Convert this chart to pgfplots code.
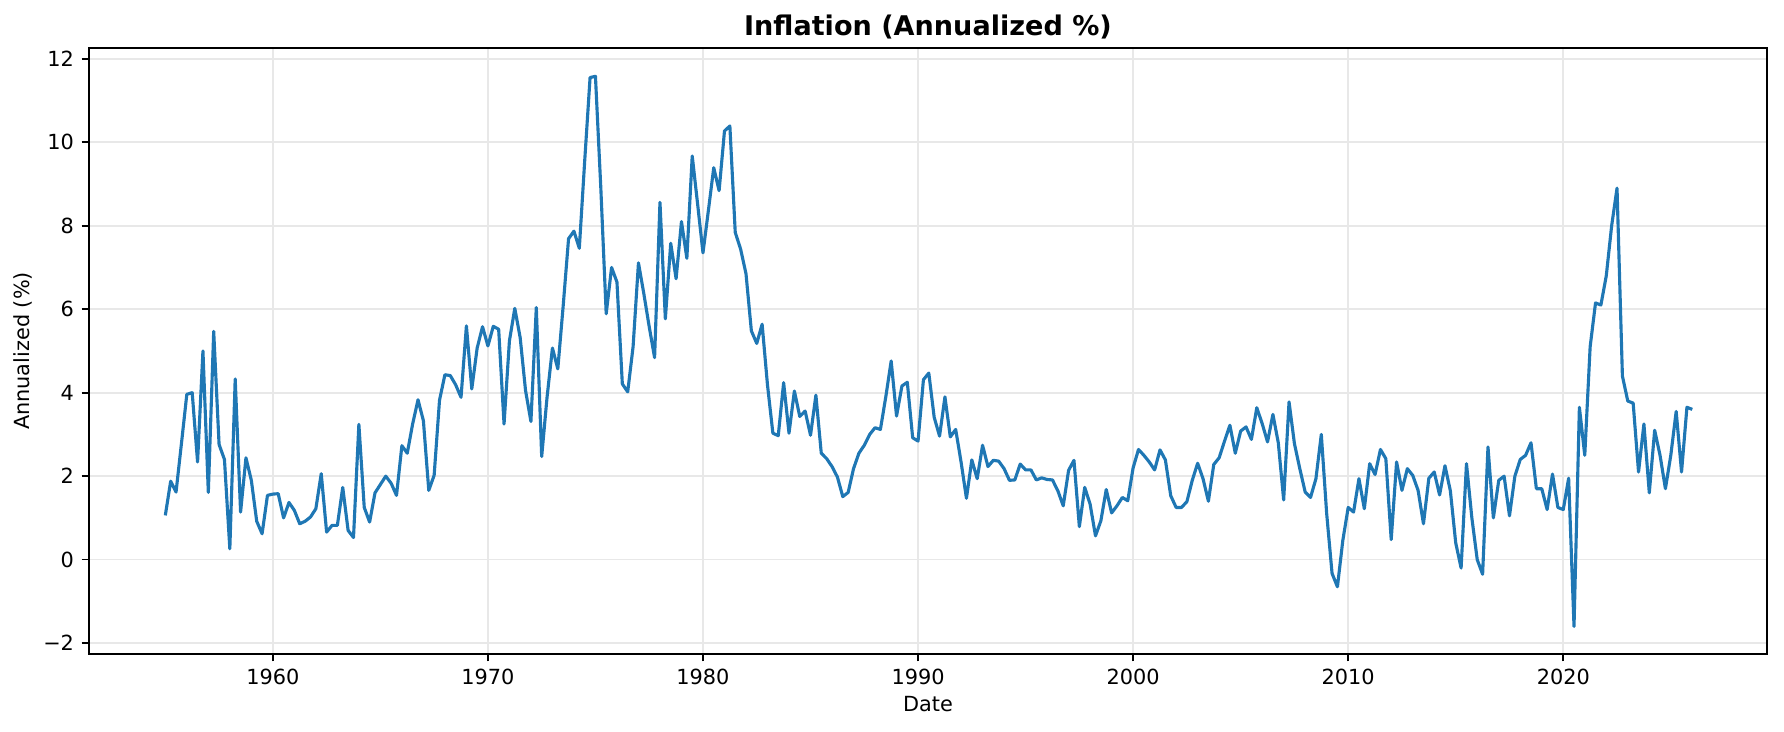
\documentclass[border=0pt]{standalone}
\usepackage{fontspec}
\setmainfont{DejaVu Sans}
\usepackage{pgfplots}
\usepackage{pgfplotstable}
\pgfplotsset{compat=1.18}
\definecolor{tabblue}{HTML}{1F77B4}
\definecolor{gridgray}{HTML}{E8E8E8}

% quarterly annualized inflation
\pgfplotstableread{
date infl
1955.00 1.06
1955.25 1.88
1955.50 1.62
1955.75 2.78
1956.00 3.96
1956.25 4.00
1956.50 2.34
1956.75 5.00
1957.00 1.61
1957.25 5.47
1957.50 2.76
1957.75 2.40
1958.00 0.26
1958.25 4.33
1958.50 1.14
1958.75 2.44
1959.00 1.90
1959.25 0.92
1959.50 0.62
1959.75 1.54
1960.00 1.57
1960.25 1.58
1960.50 1.00
1960.75 1.37
1961.00 1.18
1961.25 0.86
1961.50 0.92
1961.75 1.02
1962.00 1.22
1962.25 2.06
1962.50 0.66
1962.75 0.82
1963.00 0.82
1963.25 1.73
1963.50 0.70
1963.75 0.53
1964.00 3.24
1964.25 1.25
1964.50 0.90
1964.75 1.60
1965.00 1.80
1965.25 2.00
1965.50 1.83
1965.75 1.54
1966.00 2.73
1966.25 2.55
1966.50 3.25
1966.75 3.83
1967.00 3.33
1967.25 1.66
1967.50 2.02
1967.75 3.82
1968.00 4.43
1968.25 4.41
1968.50 4.19
1968.75 3.89
1969.00 5.60
1969.25 4.09
1969.50 5.07
1969.75 5.58
1970.00 5.12
1970.25 5.59
1970.50 5.52
1970.75 3.25
1971.00 5.24
1971.25 6.02
1971.50 5.32
1971.75 4.05
1972.00 3.31
1972.25 6.04
1972.50 2.47
1972.75 3.89
1973.00 5.07
1973.25 4.57
1973.50 6.08
1973.75 7.69
1974.00 7.87
1974.25 7.46
1974.50 9.55
1974.75 11.55
1975.00 11.58
1975.25 8.90
1975.50 5.89
1975.75 7.00
1976.00 6.65
1976.25 4.21
1976.50 4.02
1976.75 5.10
1977.00 7.11
1977.25 6.37
1977.50 5.58
1977.75 4.84
1978.00 8.56
1978.25 5.77
1978.50 7.58
1978.75 6.73
1979.00 8.10
1979.25 7.22
1979.50 9.67
1979.75 8.52
1980.00 7.35
1980.25 8.36
1980.50 9.39
1980.75 8.84
1981.00 10.27
1981.25 10.39
1981.50 7.84
1981.75 7.44
1982.00 6.85
1982.25 5.48
1982.50 5.18
1982.75 5.64
1983.00 4.18
1983.25 3.03
1983.50 2.97
1983.75 4.24
1984.00 3.03
1984.25 4.04
1984.50 3.43
1984.75 3.56
1985.00 2.98
1985.25 3.94
1985.50 2.55
1985.75 2.42
1986.00 2.23
1986.25 1.98
1986.50 1.51
1986.75 1.61
1987.00 2.18
1987.25 2.55
1987.50 2.74
1987.75 3.00
1988.00 3.16
1988.25 3.12
1988.50 3.90
1988.75 4.76
1989.00 3.44
1989.25 4.16
1989.50 4.25
1989.75 2.92
1990.00 2.84
1990.25 4.31
1990.50 4.47
1990.75 3.41
1991.00 2.96
1991.25 3.90
1991.50 2.94
1991.75 3.12
1992.00 2.34
1992.25 1.47
1992.50 2.39
1992.75 1.94
1993.00 2.74
1993.25 2.23
1993.50 2.38
1993.75 2.36
1994.00 2.18
1994.25 1.90
1994.50 1.91
1994.75 2.29
1995.00 2.15
1995.25 2.15
1995.50 1.91
1995.75 1.96
1996.00 1.92
1996.25 1.91
1996.50 1.65
1996.75 1.29
1997.00 2.14
1997.25 2.38
1997.50 0.79
1997.75 1.73
1998.00 1.33
1998.25 0.57
1998.50 0.93
1998.75 1.68
1999.00 1.12
1999.25 1.29
1999.50 1.49
1999.75 1.41
2000.00 2.20
2000.25 2.64
2000.50 2.50
2000.75 2.34
2001.00 2.15
2001.25 2.63
2001.50 2.39
2001.75 1.53
2002.00 1.25
2002.25 1.25
2002.50 1.39
2002.75 1.90
2003.00 2.31
2003.25 1.94
2003.50 1.40
2003.75 2.28
2004.00 2.44
2004.25 2.84
2004.50 3.22
2004.75 2.55
2005.00 3.08
2005.25 3.18
2005.50 2.88
2005.75 3.64
2006.00 3.26
2006.25 2.82
2006.50 3.48
2006.75 2.80
2007.00 1.43
2007.25 3.78
2007.50 2.78
2007.75 2.18
2008.00 1.62
2008.25 1.49
2008.50 1.94
2008.75 3.00
2009.00 1.10
2009.25 -0.33
2009.50 -0.65
2009.75 0.46
2010.00 1.25
2010.25 1.14
2010.50 1.94
2010.75 1.22
2011.00 2.30
2011.25 2.04
2011.50 2.64
2011.75 2.42
2012.00 0.48
2012.25 2.34
2012.50 1.66
2012.75 2.18
2013.00 2.02
2013.25 1.66
2013.50 0.86
2013.75 1.95
2014.00 2.10
2014.25 1.55
2014.50 2.25
2014.75 1.65
2015.00 0.40
2015.25 -0.20
2015.50 2.30
2015.75 1.00
2016.00 0.00
2016.25 -0.35
2016.50 2.70
2016.75 1.00
2017.00 1.90
2017.25 2.00
2017.50 1.05
2017.75 2.00
2018.00 2.40
2018.25 2.50
2018.50 2.80
2018.75 1.70
2019.00 1.70
2019.25 1.20
2019.50 2.05
2019.75 1.25
2020.00 1.20
2020.25 1.95
2020.50 -1.60
2020.75 3.65
2021.00 2.50
2021.25 5.10
2021.50 6.15
2021.75 6.10
2022.00 6.80
2022.25 8.00
2022.50 8.90
2022.75 4.40
2023.00 3.80
2023.25 3.75
2023.50 2.10
2023.75 3.25
2024.00 1.60
2024.25 3.10
2024.50 2.50
2024.75 1.70
2025.00 2.50
2025.25 3.55
2025.50 2.10
2025.75 3.65
2026.00 3.60
}\inflation

\begin{document}
\begin{tikzpicture}
\begin{axis}[
    scale only axis,
    width=805.4pt, height=290.9pt,
    xmin=1951.45, xmax=2029.47,
    ymin=-2.26, ymax=12.26,
    xtick={1960,1970,...,2020},
    ytick={-2,0,...,12},
    yticklabels={−2,0,2,4,6,8,10,12},
    /pgf/number format/1000 sep={},
    /pgf/number format/assume math mode=true,
    tick label style={font=\fontsize{10}{12}\selectfont},
    xticklabel style={inner sep=0pt, anchor=north, yshift=-3.5pt},
    yticklabel style={inner sep=0pt, anchor=east, xshift=-3.5pt},
    tick align=outside,
    major tick length=3.5pt,
    xtick pos=left, ytick pos=left,
    tick style={black, line width=0.8pt},
    axis line style={black, line width=0.8pt},
    grid=major,
    grid style={gridgray, line width=0.8pt},
    title={Inflation (Annualized \%)},
    title style={font=\fontsize{13}{15}\selectfont\bfseries, at={(0.5,1)}, anchor=base, inner sep=0pt},
    xlabel={Date},
    ylabel={Annualized (\%)},
    label style={font=\fontsize{10}{12}\selectfont, inner sep=0pt},
    xlabel style={at={(ticklabel cs:0.5,5.5pt)}, anchor=north},
    ylabel style={at={(ticklabel cs:0.5,5pt)}, anchor=south},
]
\addplot[tabblue, line width=1.5pt, line join=round] table[x=date, y=infl] {\inflation};
\end{axis}
\path (-42.7pt,-37.4pt) rectangle (813.6pt,313.9pt);
\end{tikzpicture}
\end{document}
